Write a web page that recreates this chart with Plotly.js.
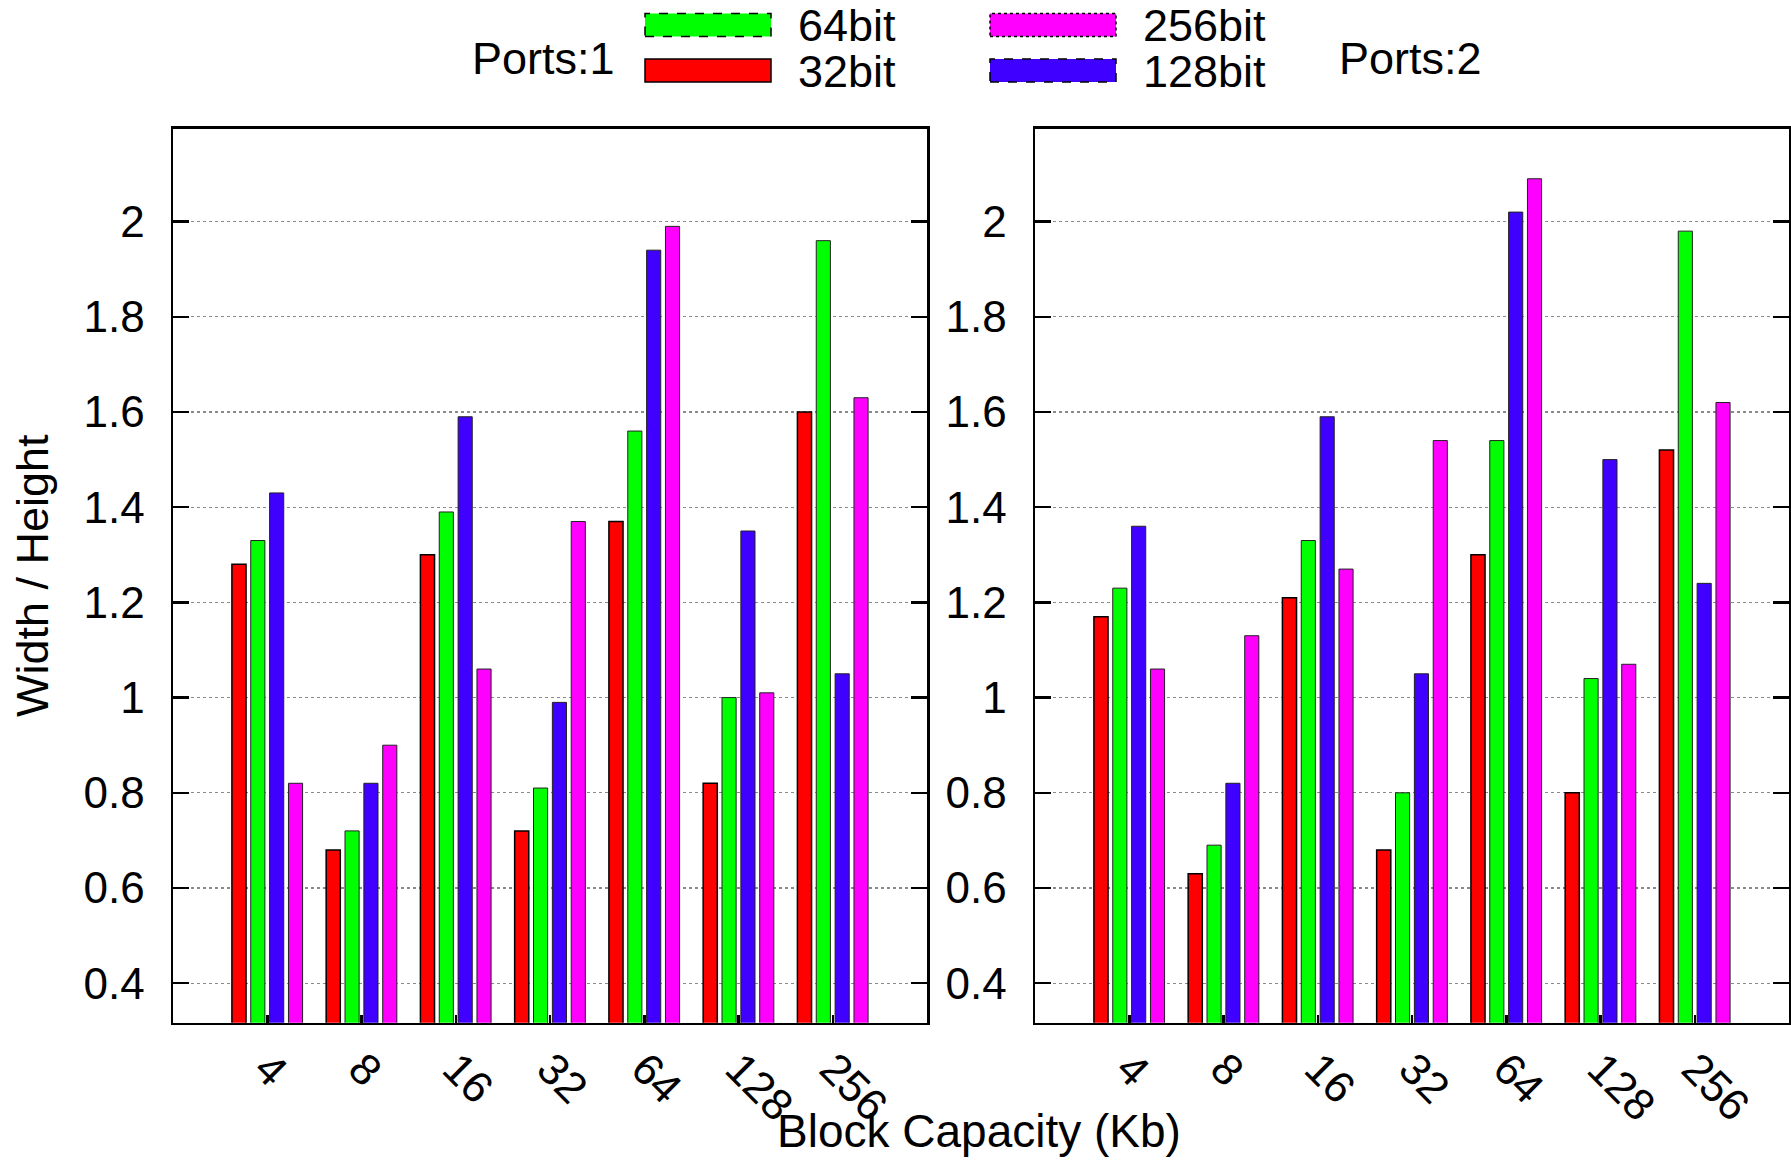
<!DOCTYPE html>
<html><head><meta charset="utf-8">
<script src="https://cdn.plot.ly/plotly-3.0.1.min.js"></script>
<style>html,body{margin:0;padding:0;background:#fff}</style>
</head><body><div id="chart" style="width:1791px;height:1162px"></div>
<script>
// ---- data ----
const capacities = ["4","8","16","32","64","128","256"];
const seriesNames = ["32bit","64bit","128bit","256bit"];
const ports1_32  = [1.28,0.68,1.30,0.72,1.37,0.82,1.60];
const ports1_64  = [1.33,0.72,1.39,0.81,1.56,1.00,1.96];
const ports1_128 = [1.43,0.82,1.59,0.99,1.94,1.35,1.05];
const ports1_256 = [0.82,0.90,1.06,1.37,1.99,1.01,1.63];
const ports2_32  = [1.17,0.63,1.21,0.68,1.30,0.80,1.52];
const ports2_64  = [1.23,0.69,1.33,0.80,1.54,1.04,1.98];
const ports2_128 = [1.36,0.82,1.59,1.05,2.02,1.50,1.24];
const ports2_256 = [1.06,1.13,1.27,1.54,2.09,1.07,1.62];
const yTickVals = [0.4,0.6,0.8,1,1.2,1.4,1.6,1.8,2];
const yTickText = ["0.4","0.6","0.8","1","1.2","1.4","1.6","1.8","2"];
const panelLabels = ["Ports:1","Ports:2"];
const xTitle = "Block Capacity (Kb)";
const yTitle = "Width / Height";

// ---- styles ----
const W = 1791, H = 1162;
const FONT = "Liberation Sans, Arial, Helvetica, sans-serif";
const colors = ["#ff0000","#00ff00","#3f00ff","#ff00ff"];
const outlineDash = ["solid","dash","dash","dot"];
const px = x => x / W;
const py = y => 1 - y / H;

const panels = [
  [ports1_32, ports1_64, ports1_128, ports1_256],
  [ports2_32, ports2_64, ports2_128, ports2_256]
];

const traces = [];
panels.forEach((series, p) => {
  series.forEach((vals, i) => {
    traces.push({
      type: "bar",
      name: seriesNames[i],
      x: capacities,
      y: vals,
      xaxis: p === 0 ? "x" : "x2",
      yaxis: p === 0 ? "y" : "y2",
      showlegend: false,
      marker: {color: colors[i], line: {color: i === 0 ? "#000" : "#222", width: i === 0 ? 1.5 : 1}},
      hoverinfo: "x+y+name"
    });
  });
});

function xAxis(domain, anchor) {
  return {
    type: "category", domain: domain, anchor: anchor, range: [-1, 7],
    showline: true, mirror: true, linecolor: "#000", linewidth: 2.5,
    ticks: "inside", ticklen: 8, tickwidth: 2.5, tickcolor: "#000",
    tickangle: 45, tickfont: {family: FONT, size: 44, color: "#000"},
    showgrid: false, zeroline: false, automargin: false, fixedrange: true
  };
}
function yAxis(anchor, withTitle) {
  const a = {
    domain: [py(1022.7), py(128.8)], anchor: anchor, range: [0.317, 2.195],
    tickmode: "array", tickvals: yTickVals, ticktext: yTickText,
    showline: true, mirror: "ticks", linecolor: "#000", linewidth: 2.5,
    ticks: "inside", ticklen: 16, tickwidth: 2.5, tickcolor: "#000",
    ticklabelstandoff: 17,
    tickfont: {family: FONT, size: 44, color: "#000"},
    showgrid: true, gridcolor: "#8a8a8a", gridwidth: 1.2, griddash: "dot",
    zeroline: false, automargin: false, fixedrange: true
  };
  if (withTitle) a.title = {text: yTitle, font: {family: FONT, size: 45, color: "#000"}, standoff: 21};
  return a;
}

// custom legend (gnuplot style, two columns)
const legendSlots = [ // [x0, y0] top-left of swatch in px for each series
  [645, 59], [645, 13.5], [990, 59], [990, 13.5]
];
const swW = 126, swH = 23;
const shapes = [];
const annotations = [];
seriesNames.forEach((nm, i) => {
  const [x0, y0] = legendSlots[i];
  shapes.push({
    type: "rect", xref: "paper", yref: "paper",
    x0: px(x0), x1: px(x0 + swW), y0: py(y0 + swH), y1: py(y0),
    fillcolor: colors[i], line: {color: "#000", width: 1.5, dash: outlineDash[i]}
  });
  annotations.push({
    xref: "paper", yref: "paper", x: px(x0 + swW + 25), y: py(y0 + swH / 2 + 1),
    xanchor: "left", yanchor: "middle", showarrow: false,
    text: nm, font: {family: FONT, size: 45, color: "#000"}
  });
});
annotations.push({
  xref: "paper", yref: "paper", x: px(470), y: py(58), xanchor: "left", yanchor: "middle",
  showarrow: false, text: panelLabels[0], font: {family: FONT, size: 45, color: "#000"}
});
annotations.push({
  xref: "paper", yref: "paper", x: px(1337), y: py(58), xanchor: "left", yanchor: "middle",
  showarrow: false, text: panelLabels[1], font: {family: FONT, size: 45, color: "#000"}
});
annotations.push({
  xref: "paper", yref: "paper", x: px(979), y: py(1131), xanchor: "center", yanchor: "middle",
  showarrow: false, text: xTitle, font: {family: FONT, size: 46, color: "#000"}
});

const layout = {
  width: W, height: H,
  margin: {l: 0, r: 0, t: 0, b: 0, pad: 0},
  paper_bgcolor: "#fff", plot_bgcolor: "#fff",
  barmode: "group", bargap: 0.2, bargroupgap: 0.25,
  showlegend: false,
  xaxis: xAxis([px(173), px(927)], "y"),
  yaxis: yAxis("x", true),
  xaxis2: xAxis([px(1035), px(1789)], "y2"),
  yaxis2: yAxis("x2", false),
  shapes: shapes,
  annotations: annotations,
  font: {family: FONT, color: "#000"}
};

Plotly.newPlot("chart", traces, layout, {displayModeBar: false, staticPlot: true});
</script>
</body></html>
